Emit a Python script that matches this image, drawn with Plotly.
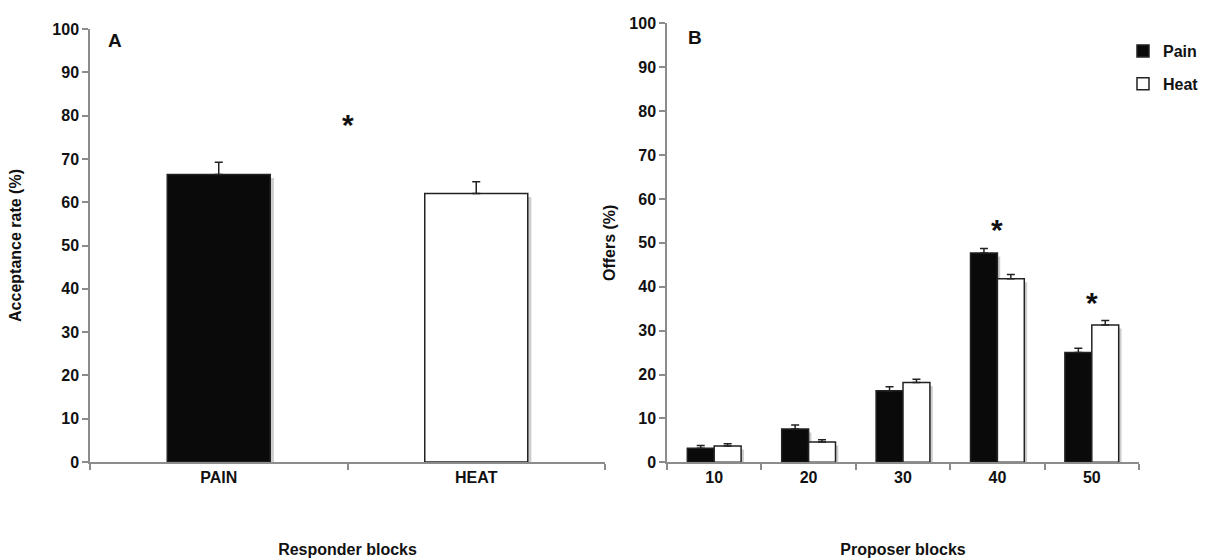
import plotly.graph_objects as go

# ---- data ----
resp_blocks = ["PAIN", "HEAT"]
acceptance = [66.4, 62.0]
acceptance_err = [2.8, 2.7]

prop_blocks = ["10", "20", "30", "40", "50"]
offers_pain = [3.2, 7.6, 16.3, 47.7, 25.0]
offers_pain_err = [0.6, 0.9, 0.9, 1.0, 1.0]
offers_heat = [3.7, 4.6, 18.2, 41.8, 31.3]
offers_heat_err = [0.5, 0.55, 0.7, 1.0, 1.0]

star_A = {"x": 0.5, "y": 78}
star_B_x = ["40", "50"]
star_B_y = [53, 36.5]

y_ticks = list(range(0, 101, 10))

FONT = "Liberation Sans, Arial, sans-serif"
AX = "#8c8c8c"
TXT = "#111111"

fig = go.Figure()

shadow = "rgba(90,90,90,0.3)"
# shadows (panel A)
fig.add_trace(go.Bar(x=resp_blocks, y=acceptance, base=[-0.8, -0.8], width=0.4, offset=-0.2 + 0.014,
                     marker=dict(color=shadow, line=dict(width=0)), xaxis="x", yaxis="y",
                     showlegend=False, hoverinfo="skip"))
fig.add_trace(go.Bar(x=resp_blocks, y=acceptance, width=0.4, offset=-0.2,
                     marker=dict(color=["#0a0a0a", "white"], line=dict(color="#222", width=1.5)),
                     error_y=dict(type="data", array=acceptance_err, arrayminus=[0, 0], symmetric=False,
                                  color="#222", thickness=1.5, width=4),
                     xaxis="x", yaxis="y", showlegend=False))

bw = 0.285
# shadows (panel B)
fig.add_trace(go.Bar(x=prop_blocks, y=offers_pain, base=[-0.8] * 5, width=bw, offset=-bw + 0.03,
                     marker=dict(color=shadow, line=dict(width=0)), xaxis="x2", yaxis="y2",
                     showlegend=False, hoverinfo="skip"))
fig.add_trace(go.Bar(x=prop_blocks, y=offers_heat, base=[-0.8] * 5, width=bw, offset=0.03,
                     marker=dict(color=shadow, line=dict(width=0)), xaxis="x2", yaxis="y2",
                     showlegend=False, hoverinfo="skip"))
fig.add_trace(go.Bar(name="Pain", legendgroup="pain", x=prop_blocks, y=offers_pain, width=bw, offset=-bw,
                     marker=dict(color="#0a0a0a", line=dict(color="#222", width=1.5)),
                     error_y=dict(type="data", array=offers_pain_err, arrayminus=[0] * 5, symmetric=False,
                                  color="#222", thickness=1.5, width=4),
                     xaxis="x2", yaxis="y2"))
fig.add_trace(go.Bar(name="Heat", legendgroup="heat", x=prop_blocks, y=offers_heat, width=bw, offset=0,
                     marker=dict(color="white", line=dict(color="#222", width=1.5)),
                     error_y=dict(type="data", array=offers_heat_err, arrayminus=[0] * 5, symmetric=False,
                                  color="#222", thickness=1.5, width=4),
                     xaxis="x2", yaxis="y2"))

W, H = 1208, 558
tickfont = dict(family=FONT, size=16, color=TXT, weight="bold")
titlefont = dict(family=FONT, size=16, color=TXT, weight="bold")

common_x = dict(type="category", showline=True, linecolor=AX, linewidth=1.5, ticks="outside",
                tickcolor=AX, ticklen=6, tickwidth=1.5, tickson="boundaries", showgrid=False,
                zeroline=False, tickfont=tickfont, fixedrange=True, tickangle=0, automargin=False)
common_y = dict(showline=True, linecolor=AX, linewidth=1.5, ticks="outside", tickcolor=AX,
                ticklen=6, tickwidth=1.5, showgrid=False, zeroline=False, range=[0, 100],
                tickvals=y_ticks, tickfont=tickfont, fixedrange=True, automargin=False)

fig.update_layout(
    width=W, height=H,
    margin=dict(l=0, r=0, t=0, b=0, autoexpand=False),
    paper_bgcolor="white", plot_bgcolor="white",
    barmode="overlay",
    font=dict(family=FONT, color=TXT),
    xaxis=dict(domain=[90 / W, 605 / W], anchor="y", range=[-0.5, len(resp_blocks) - 0.5],
               categoryorder="array", categoryarray=resp_blocks,
               title=dict(text="Responder blocks", font=titlefont, standoff=65), **common_x),
    yaxis=dict(domain=[1 - 462 / H, 1 - 29 / H], anchor="x",
               title=dict(text="Acceptance rate (%)", font=titlefont, standoff=27), **common_y),
    xaxis2=dict(domain=[667 / W, 1139 / W], anchor="y2", range=[-0.5, len(prop_blocks) - 0.5],
                categoryorder="array", categoryarray=prop_blocks,
                title=dict(text="Proposer blocks", font=titlefont, standoff=65), **common_x),
    yaxis2=dict(domain=[1 - 462.3 / H, 1 - 23.3 / H], anchor="x2",
                title=dict(text="Offers (%)", font=titlefont, standoff=10), **common_y),
    legend=dict(x=1123 / W, y=1 - 34 / H, xanchor="left", yanchor="top",
                font=dict(family=FONT, size=16, color=TXT, weight="bold"),
                itemwidth=30, tracegroupgap=9, bgcolor="rgba(0,0,0,0)"),
    showlegend=True,
)

annotations = [
    dict(text="A", x=115 / W, y=1 - 40 / H, xref="paper", yref="paper", showarrow=False,
         xanchor="center", yanchor="middle",
         font=dict(family=FONT, size=19, color=TXT, weight="bold")),
    dict(text="B", x=695 / W, y=1 - 38 / H, xref="paper", yref="paper", showarrow=False,
         xanchor="center", yanchor="middle",
         font=dict(family=FONT, size=19, color=TXT, weight="bold")),
    dict(text="*", x=star_A["x"], y=star_A["y"], xref="x", yref="y", showarrow=False,
         font=dict(family=FONT, size=30, color=TXT, weight="bold")),
]
for sx, sy in zip(star_B_x, star_B_y):
    annotations.append(dict(text="*", x=prop_blocks.index(sx), y=sy, xref="x2", yref="y2",
                            showarrow=False, font=dict(family=FONT, size=30, color=TXT, weight="bold")))
fig.update_layout(annotations=annotations)

fig.write_html("out.html")
